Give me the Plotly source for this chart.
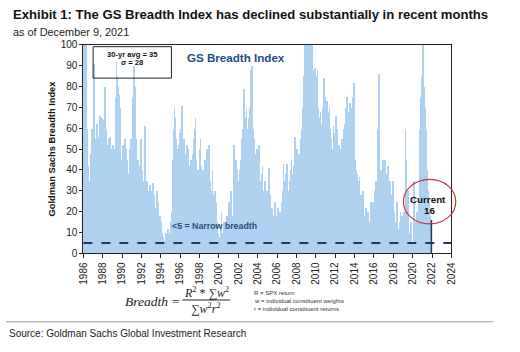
import pandas as pd
import plotly.graph_objects as go

# ---- data: monthly GS Breadth Index readings ----
y1986 = [100, 100, 98, 100, 92, 60, 42, 12, 35, 48, 56, 60]
y1987 = [58, 91, 60, 50, 55, 62, 48, 56, 63, 66, 60, 65]
y1988 = [64, 58, 55, 80, 60, 52, 48, 55, 45, 56, 50, 40]
y1989 = [48, 52, 45, 50, 75, 92, 85, 80, 76, 70, 55, 45]
y1990 = [40, 52, 48, 35, 55, 50, 45, 30, 25, 38, 50, 55]
y1991 = [48, 60, 75, 90, 80, 55, 45, 40, 45, 38, 42, 55]
y1992 = [48, 40, 35, 30, 61, 28, 25, 35, 30, 22, 28, 33]
y1993 = [30, 25, 34, 20, 28, 18, 22, 30, 15, 25, 12, 18]
y1994 = [15, 10, 5, 8, 3, 6, 10, 4, 8, 12, 6, 10]
y1995 = [12, 15, 20, 45, 60, 70, 65, 55, 50, 45, 52, 58]
y1996 = [55, 60, 71, 50, 45, 55, 40, 48, 52, 45, 50, 42]
y1997 = [38, 45, 40, 30, 48, 55, 60, 65, 45, 35, 40, 38]
y1998 = [50, 55, 42, 35, 40, 30, 25, 45, 38, 50, 35, 30]
y1999 = [52, 35, 30, 25, 40, 28, 20, 30, 18, 25, 15, 10]
y2000 = [8, 5, 12, 20, 10, 6, 15, 8, 3, 12, 18, 10]
y2001 = [25, 15, 20, 30, 12, 18, 35, 52, 30, 45, 40, 35]
y2002 = [35, 30, 40, 45, 38, 55, 60, 79, 50, 65, 70, 60]
y2003 = [58, 65, 70, 75, 88, 90, 60, 50, 55, 48, 45, 50]
y2004 = [45, 40, 52, 35, 30, 38, 42, 30, 25, 35, 28, 30]
y2005 = [25, 30, 41, 28, 20, 15, 22, 18, 12, 25, 20, 15]
y2006 = [18, 22, 15, 12, 20, 10, 25, 30, 43, 35, 25, 38]
y2007 = [43, 35, 30, 25, 35, 40, 45, 38, 30, 42, 56, 40]
y2008 = [45, 50, 42, 48, 35, 40, 55, 60, 70, 85, 100, 100]
y2009 = [100, 100, 100, 95, 60, 100, 100, 100, 90, 88, 85, 89]
y2010 = [85, 80, 88, 70, 65, 60, 68, 62, 55, 70, 84, 75]
y2011 = [72, 70, 73, 68, 65, 70, 60, 55, 45, 50, 61, 55]
y2012 = [58, 66, 60, 55, 48, 52, 50, 45, 55, 48, 52, 60]
y2013 = [62, 70, 65, 75, 60, 68, 72, 65, 70, 60, 75, 82]
y2014 = [70, 45, 40, 38, 35, 30, 37, 25, 28, 20, 30, 22]
y2015 = [18, 15, 22, 12, 10, 20, 15, 8, 25, 12, 20, 25]
y2016 = [22, 30, 28, 35, 30, 60, 86, 45, 35, 40, 30, 45]
y2017 = [40, 35, 45, 30, 38, 42, 25, 30, 35, 28, 20, 15]
y2018 = [35, 20, 15, 10, 18, 25, 12, 8, 15, 20, 10, 18]
y2019 = [12, 20, 15, 60, 45, 25, 30, 20, 10, 8, 15, 5]
y2020 = [3, 10, 35, 15, 8, 20, 12, 18, 25, 60, 75, 85]
y2021 = [90, 100, 80, 70, 65, 60, 40, 30, 25, 20, 18, 16]

yearly = [y1986, y1987, y1988, y1989, y1990, y1991, y1992, y1993, y1994,
          y1995, y1996, y1997, y1998, y1999, y2000, y2001, y2002, y2003,
          y2004, y2005, y2006, y2007, y2008, y2009, y2010, y2011, y2012,
          y2013, y2014, y2015, y2016, y2017, y2018, y2019, y2020, y2021]

current_date = "2021-12-09"
current_value = 16
narrow_level = 5
tick_years = list(range(1986, 2025, 2))

values = [v for yr in yearly for v in yr]
dates = pd.date_range("1986-01-01", periods=len(values), freq="MS") + pd.Timedelta(days=14)

W, H = 520, 352
def px(x):
    return x / W
def py(y):
    return 1 - y / H

FONT = "Arial, Liberation Sans, sans-serif"
SERIF = "Liberation Serif, serif"
NAVY = "#1f3864"

fig = go.Figure()
fig.add_trace(go.Bar(x=dates, y=values, marker=dict(color="#add1ee", line=dict(width=0)),
                     hoverinfo="skip"))

fig.update_layout(
    width=W, height=H, margin=dict(l=0, r=0, t=0, b=0),
    paper_bgcolor="white", plot_bgcolor="white", bargap=0, showlegend=False,
    font=dict(family=FONT, color="#222"),
    xaxis=dict(type="date", domain=[px(79), px(455)],
               range=["1986-01-01", "2024-01-01"],
               tickvals=[f"{y}-01-01" for y in tick_years],
               ticktext=[str(y) for y in tick_years],
               tickangle=-90, tickfont=dict(size=10, family=FONT, color="#222"),
               ticks="outside", ticklen=4, tickcolor="#222",
               showline=True, linecolor="#222", linewidth=1, mirror=True,
               showgrid=False, zeroline=False),
    yaxis=dict(domain=[py(256.5), py(41)], range=[0, 100],
               tickvals=list(range(0, 101, 10)),
               tickfont=dict(size=10, family=FONT, color="#222"),
               ticks="outside", ticklen=3, tickcolor="#222",
               showline=True, linecolor="#222", linewidth=1, mirror=True,
               showgrid=False, zeroline=False),
)

shapes = []
# narrow breadth dashed line
shapes.append(dict(type="line", xref="x domain", yref="y", x0=0, x1=1,
                   y0=narrow_level, y1=narrow_level,
                   line=dict(color=NAVY, width=2, dash="dash")))
# current marker line
shapes.append(dict(type="line", xref="x", yref="y", x0=current_date, x1=current_date,
                   y0=0, y1=current_value, line=dict(color=NAVY, width=1.5)))
# red ellipse
shapes.append(dict(type="circle", xref="paper", yref="paper",
                   x0=px(406), x1=px(459.5), y0=py(180), y1=py(226),
                   line=dict(color="#c8313a", width=1.2)))
# stats box
shapes.append(dict(type="rect", xref="paper", yref="paper",
                   x0=px(89), x1=px(169), y0=py(43), y1=py(75.5),
                   line=dict(color="#222", width=1)))
# fraction bar
shapes.append(dict(type="line", xref="paper", yref="paper",
                   x0=px(180), x1=px(229), y0=py(304.5), y1=py(304.5),
                   line=dict(color="#222", width=1)))
# separator line
shapes.append(dict(type="line", xref="paper", yref="paper",
                   x0=0, x1=px(498), y0=py(327), y1=py(327),
                   line=dict(color="#999", width=1)))
fig.update_layout(shapes=shapes)

def ann(text, x, y, size, color="#222", xanchor="left", bold=False, family=FONT,
        textangle=0, italic=False):
    t = f"<b>{text}</b>" if bold else text
    if italic:
        t = f"<i>{t}</i>"
    fig.add_annotation(text=t, x=px(x), y=py(y), xref="paper", yref="paper",
                       xanchor=xanchor, yanchor="middle", showarrow=False,
                       textangle=textangle,
                       font=dict(size=size, color=color, family=family))

ann("Exhibit 1: The GS Breadth Index has declined substantially in recent months",
    5, 10, 13.1, color="#111", bold=True)
ann("as of December 9, 2021", 5, 28, 10.9, color="#222")
ann("Goldman Sachs Breadth Index", 47, 148, 9.3, color="#111", bold=True,
    xanchor="center", textangle=-90)
ann("30-yr avg = 35", 129, 51, 7.6, color="#111", bold=True, xanchor="center")
ann("σ = 28", 129, 59, 7.6, color="#111", bold=True, xanchor="center")
ann("GS Breadth Index", 234.5, 54, 11.6, color="#1f4e79", bold=True, xanchor="center")
ann("&lt;5 = Narrow breadth", 213, 228, 8.8, color="#1f4e79", bold=True, xanchor="center")
ann("Current", 431, 200.5, 9.8, color="#111", bold=True, xanchor="center")
ann(str(current_value), 433, 212, 9.8, color="#111", bold=True, xanchor="center")

ann("Breadth =", 150, 306, 13.5, color="#222", xanchor="center", family=SERIF, italic=True)
ann("<i>R</i><sup>2</sup> * ∑<i>w</i><sup>2</sup>", 204.5, 296.5, 12, color="#222",
    xanchor="center", family=SERIF)
ann("∑<i>w</i><sup>2</sup><i>r</i><sup>2</sup>", 204.5, 313.5, 12, color="#222",
    xanchor="center", family=SERIF)
ann("R = SPX return", 251, 297, 6, color="#333")
ann("w = individual constituent weights", 251, 305.5, 6, color="#333")
ann("r = individual constituent returns", 251, 313.5, 6, color="#333")
ann("Source: Goldman Sachs Global Investment Research", 1, 339, 10, color="#222")

fig.write_html("out.html")
